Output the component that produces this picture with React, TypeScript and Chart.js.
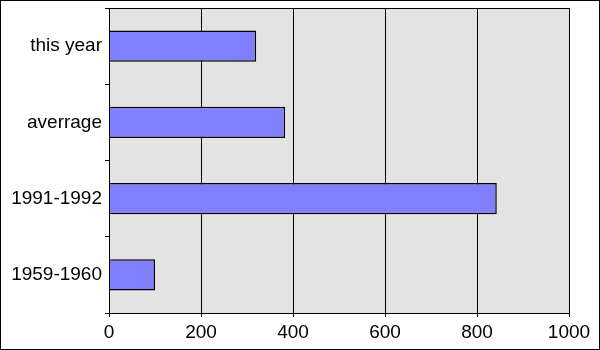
import React, { useEffect, useRef } from "react";
import { Chart, registerables } from "chart.js";

Chart.register(...registerables);

const categories = ["this year", "averrage", "1991-1992", "1959-1960"];
const values = [320, 383, 843, 100];
const xTicks = [0, 200, 400, 600, 800, 1000];

const framePlugin = {
  id: "frame",
  beforeDraw(chart: any) {
    const { ctx, chartArea } = chart;
    ctx.save();
    ctx.fillStyle = "#ffffff";
    ctx.fillRect(0, 0, chart.width, chart.height);
    ctx.fillStyle = "#e3e3e3";
    ctx.fillRect(chartArea.left, chartArea.top, chartArea.right - chartArea.left, chartArea.bottom - chartArea.top);
    ctx.restore();
  },
  afterDraw(chart: any) {
    const { ctx, chartArea } = chart;
    ctx.save();
    ctx.strokeStyle = "#000000";
    ctx.lineWidth = 1;
    ctx.strokeRect(
      Math.round(chartArea.left) + 0.5,
      Math.round(chartArea.top) + 0.5,
      Math.round(chartArea.right - chartArea.left),
      Math.round(chartArea.bottom - chartArea.top)
    );
    ctx.strokeRect(0.5, 0.5, chart.width - 1, chart.height - 1);
    ctx.restore();
  },
};

export default function App() {
  const ref = useRef<HTMLCanvasElement>(null);
  useEffect(() => {
    document.body.style.margin = "0";
    const chart = new Chart(ref.current!, {
      type: "bar",
      data: {
        labels: categories,
        datasets: [
          {
            data: values,
            backgroundColor: "#8080ff",
            borderColor: "#000000",
            borderWidth: 1.5,
            barPercentage: 0.41,
            categoryPercentage: 1,
          },
        ],
      },
      options: {
        indexAxis: "y",
        animation: false,
        responsive: false,
        maintainAspectRatio: false,
        layout: { padding: { left: 0, right: 31, top: 8, bottom: 0 } },
        plugins: { legend: { display: false }, tooltip: { enabled: false } },
        scales: {
          x: {
            min: 0,
            max: 1000,
            afterBuildTicks: (scale: any) => {
              scale.ticks = xTicks.map((v) => ({ value: v }));
            },
            afterFit: (scale: any) => {
              scale.height = 37;
              scale.paddingLeft = 0;
              scale.paddingRight = 0;
            },
            grid: {
              color: "#000000",
              lineWidth: 1,
              tickLength: 4,
              drawOnChartArea: true,
            },
            border: { display: false },
            ticks: {
              color: "#000000",
              padding: 4,
              maxRotation: 0,
              callback: (v: any) => String(v),
              font: { family: "'Liberation Sans', Arial, sans-serif", size: 19 },
            },
          },
          y: {
            afterFit: (scale: any) => {
              scale.width = 109;
              scale.paddingTop = 0;
              scale.paddingBottom = 0;
            },
            grid: {
              offset: true,
              color: "#000000",
              tickLength: 4,
              drawOnChartArea: false,
            },
            border: { display: false },
            ticks: {
              color: "#000000",
              padding: 3,
              font: { family: "'Liberation Sans', Arial, sans-serif", size: 19 },
            },
          },
        },
      },
      plugins: [framePlugin],
    } as any);
    return () => chart.destroy();
  }, []);
  return (
    <div style={{ width: 600, height: 350 }}>
      <canvas ref={ref} width={600} height={350} style={{ display: "block" }} />
    </div>
  );
}
